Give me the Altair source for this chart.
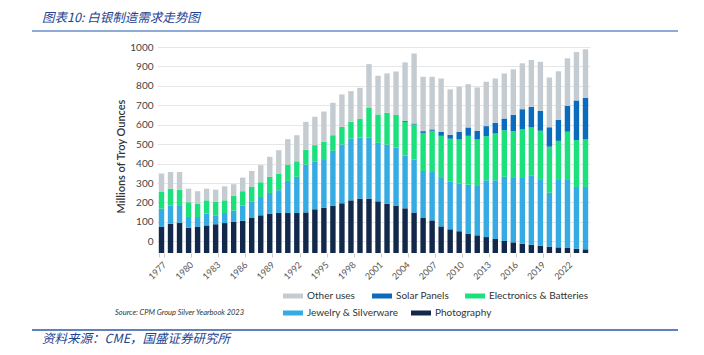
import altair as alt
import pandas as pd

years = list(range(1977, 2025))

photography = [134, 151, 156, 130, 134, 142, 148, 154, 160, 166,
               180, 194, 201, 206, 206, 206, 209, 225, 232, 244,
               256, 271, 280, 280, 266, 254, 244, 230, 208, 180,
               168, 137, 122, 112, 100, 91, 82, 72, 62, 55,
               48, 43, 38, 33, 29, 26, 22, 19]
jewelry = [94, 94, 86, 55, 51, 61, 46, 52, 58, 79,
           86, 94, 108, 117, 165, 186, 246, 247, 251, 282,
           302, 317, 314, 313, 301, 304, 299, 272, 273, 242,
           249, 249, 247, 245, 252, 254, 292, 302, 330, 331,
           338, 354, 342, 277, 351, 354, 318, 321]
electronics = [86, 86, 84, 76, 67, 68, 69, 65, 76, 73,
               74, 76, 83, 86, 84, 80, 77, 83, 89, 80,
               91, 87, 97, 153, 146, 164, 166, 173, 180, 196,
               212, 217, 219, 227, 251, 239, 227, 241, 240, 241,
               250, 249, 249, 237, 197, 244, 241, 244]
solar = [0] * 26 + [2, 5, 6, 9, 7, 21, 20, 40, 43, 45,
                    52, 55, 60, 84, 104, 106, 103, 100, 108, 134,
                    204, 215]
other = [95, 86, 91, 70, 66, 60, 63, 72, 60, 70,
         82, 88, 103, 120, 131, 134, 143, 146, 156, 167,
         167, 158, 159, 226, 199, 202, 223, 301, 360, 280,
         271, 274, 234, 232, 223, 223, 228, 228, 232, 234,
         236, 241, 252, 256, 250, 244, 249, 249]

categories = ["Other uses", "Solar Panels", "Electronics & Batteries",
              "Jewelry & Silverware", "Photography"]
colors = ["#c5ccd1", "#0b6bbd", "#1be17d", "#34abe2", "#13294b"]
stack_order = {"Photography": 0, "Jewelry & Silverware": 1,
               "Electronics & Batteries": 2, "Solar Panels": 3, "Other uses": 4}
series = {"Photography": photography, "Jewelry & Silverware": jewelry,
          "Electronics & Batteries": electronics, "Solar Panels": solar,
          "Other uses": other}
tick_years = list(range(1977, 2023, 3))
y_ticks = list(range(0, 1001, 100))
baseline = -60  # bars start below the 0 gridline in the reference

rows = []
for cat, vals in series.items():
    for y, v in zip(years, vals):
        rows.append({"year": y, "category": cat, "value": v, "ord": stack_order[cat]})
df = pd.DataFrame(rows)

W, H = 433, 206
PL, PT = 157, 47

bars = alt.Chart(df).transform_stack(
    stack="value", groupby=["year"], as_=["s0", "s1"],
    sort=[alt.SortField(field="ord", order="ascending")]
).transform_calculate(
    y0=f"datum.s0 + ({baseline})", y1=f"datum.s1 + ({baseline})"
).mark_bar().encode(
    x=alt.X("year:O", scale=alt.Scale(paddingInner=0.4, paddingOuter=0.2),
            axis=alt.Axis(values=tick_years, labelAngle=315, labelFontSize=9,
                          labelColor="#555", labelFont="Lato", domain=False,
                          ticks=True, tickColor="#cccccc", tickSize=4, tickBand="extent",
                          labelPadding=3, title=None, grid=False)),
    y=alt.Y("y1:Q", scale=alt.Scale(domain=[baseline, 1000], nice=False, zero=False),
            axis=alt.Axis(values=y_ticks, format="d", labelFontSize=10, labelColor="#444",
                          labelFont="Lato", domain=False, ticks=False, labelPadding=4,
                          gridColor="#e6e6e6", gridWidth=1,
                          title="Millions of Troy Ounces", titleFont="Lato",
                          titleFontSize=11, titleFontWeight=600, titleColor="#333",
                          titleAngle=270, titleAlign="center", titleBaseline="middle",
                          titleX=121 - PL, titleY=156 - PT)),
    y2="y0:Q",
    color=alt.Color("category:N", scale=alt.Scale(domain=categories, range=colors),
                    legend=None),
)

one = alt.Data(values=[{}])


def txt(text, x, y, size, color, style="normal", font="Noto Sans CJK SC", weight="normal"):
    return alt.Chart(one).mark_text(
        text=text, align="left", baseline="middle", fontSize=size, color=color,
        fontStyle=style, font=font, fontWeight=weight
    ).encode(x=alt.value(x - PL), y=alt.value(y - PT))


def hline(x1, x2, y, color, w):
    return alt.Chart(one).mark_rule(color=color, strokeWidth=w).encode(
        x=alt.value(x1 - PL), x2=alt.value(x2 - PL), y=alt.value(y - PT))


def swatch(x, y, color):
    return alt.Chart(one).mark_rect(color=color).encode(
        x=alt.value(x - PL), x2=alt.value(x + 20 - PL),
        y=alt.value(y - 2.5 - PT), y2=alt.value(y + 2.5 - PT))


# manual legend, flowing layout as in the reference
legend_pos = [(283, 296), (372, 296), (465, 296), (283, 313), (411, 313)]
legend_layers = []
for cat, col, (lx, ly) in zip(categories, colors, legend_pos):
    legend_layers.append(swatch(lx, ly, col))
    legend_layers.append(txt(cat, lx + 24, ly, 10, "#333", font="Lato"))

header = txt("图表10: 白银制造需求走势图", 42, 18, 12.5, "#22418f", style="italic")
footer = txt("资料来源：CME，国盛证券研究所", 42, 339, 12.5, "#22418f", style="italic")
source = txt("Source: CPM Group Silver Yearbook 2023", 115, 313, 7.5, "#333",
             style="italic", font="Lato")
line_top = hline(32, 678, 31, "#8eaad6", 2)
line_bot = hline(32, 678, 330, "#2a59a8", 1.5)

chart = alt.layer(bars, header, footer, source, line_top, line_bot, *legend_layers).properties(
    width=W, height=H, autosize="none",
    padding={"left": PL, "top": PT, "right": 704 - PL - W, "bottom": 355 - PT - H},
    background="white"
).configure_view(stroke=None)

chart.save("out.html", embed_options={"renderer": "svg", "actions": False})
